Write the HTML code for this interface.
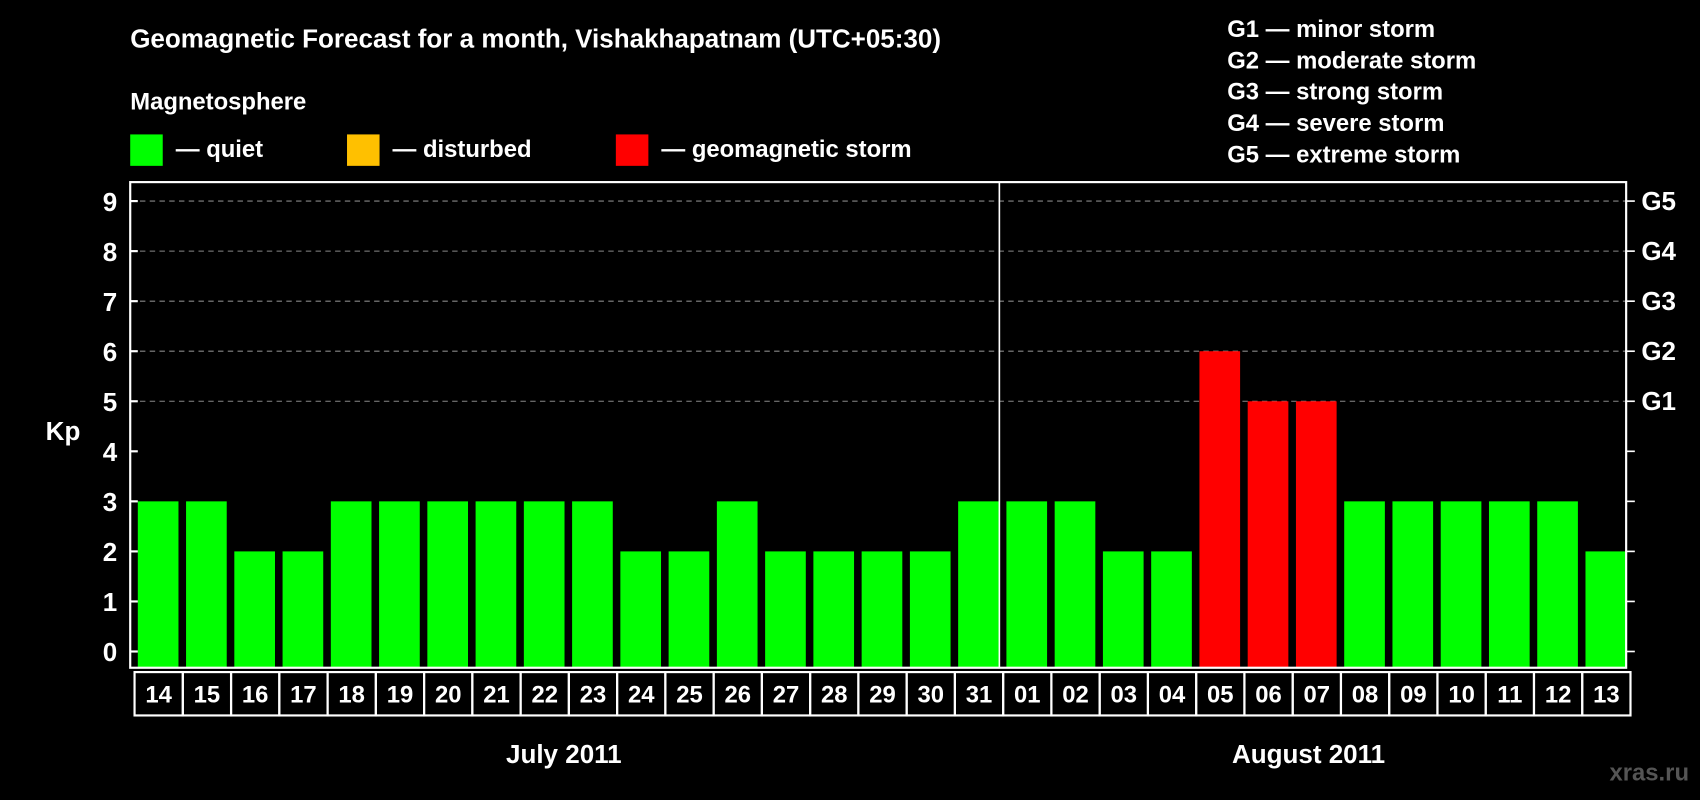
<!DOCTYPE html>
<html><head><meta charset="utf-8"><style>
html,body{margin:0;padding:0;background:#000;}
svg{display:block;font-family:"Liberation Sans",Arial,sans-serif;font-weight:bold;}
</style></head><body>
<svg id="chart" width="1700" height="800" viewBox="0 0 1568 738" xmlns="http://www.w3.org/2000/svg">
<rect width="1568" height="738" fill="#000"/>
<text x="120" y="44" fill="#fff" font-size="24">Geomagnetic Forecast for a month, Vishakhapatnam (UTC+05:30)</text>
<text x="120" y="101" fill="#fff" font-size="22">Magnetosphere</text>
<g><rect x="120" y="124" width="30" height="29" fill="#00ff00"/><text x="162" y="145" fill="#fff" font-size="22">— quiet</text></g>
<g><rect x="320" y="124" width="30" height="29" fill="#ffc000"/><text x="362" y="145" fill="#fff" font-size="22">— disturbed</text></g>
<g><rect x="568" y="124" width="30" height="29" fill="#ff0000"/><text x="610" y="145" fill="#fff" font-size="22">— geomagnetic storm</text></g>
<g fill="#fff" font-size="22">
<text x="1132" y="34">G1 — minor storm</text>
<text x="1132" y="63">G2 — moderate storm</text>
<text x="1132" y="92">G3 — strong storm</text>
<text x="1132" y="121">G4 — severe storm</text>
<text x="1132" y="150">G5 — extreme storm</text>
</g>
<g id="plot"></g>
<text x="58" y="406" fill="#fff" font-size="24" text-anchor="middle">Kp</text>
<text x="520" y="704" fill="#fff" font-size="24" text-anchor="middle">July 2011</text>
<text x="1207" y="704" fill="#fff" font-size="24" text-anchor="middle">August 2011</text>
<text x="1558" y="720" fill="#555" font-size="22" text-anchor="end">xras.ru</text>
</svg>
<script>
const days = ["14","15","16","17","18","19","20","21","22","23","24","25","26","27","28","29","30","31","01","02","03","04","05","06","07","08","09","10","11","12","13"];
const kp = [3,3,2,2,3,3,3,3,3,3,2,2,3,2,2,2,2,3,3,3,2,2,6,5,5,3,3,3,3,3,2];
const yTicks = [0,1,2,3,4,5,6,7,8,9];
const gLabels = ["G1","G2","G3","G4","G5"];
const gLevels = [5,6,7,8,9];
const monthSplit = 18;

const NS="http://www.w3.org/2000/svg";
const L=120,R=1500,T=168,B=616;
const y=v=>601-v*(601-185.5)/9;
const slot=(R-L)/days.length;
const xs=i=>L+i*slot;
const g=document.getElementById('plot');
function mk(t,a,p){const e=document.createElementNS(NS,t);for(const k in a)e.setAttribute(k,a[k]);(p||g).appendChild(e);return e;}
function color(v){return v>=5?"#ff0000":(v>=4?"#ffc000":"#00ff00");}

gLevels.forEach((lv,i)=>{
  const ln=mk('line',{x1:L,x2:R,y1:y(lv),y2:y(lv),stroke:"#888","stroke-width":1,"stroke-dasharray":"5,4"});
  
  
  const t=mk('text',{x:R+14,y:y(lv)+8,fill:"#fff","font-size":24});
  t.textContent=gLabels[i];
  
  
});
kp.forEach((v,i)=>{
  const r=mk('rect',{x:xs(i)+7,y:y(v),width:slot-7,height:B-y(v),fill:color(v)});
  
  
});
yTicks.forEach(v=>{
  mk('line',{x1:L,x2:L+7,y1:y(v),y2:y(v),stroke:"#fff","stroke-width":2});
  mk('line',{x1:R,x2:R+8,y1:y(v),y2:y(v),stroke:"#fff","stroke-width":1.5});
  const t=mk('text',{x:108,y:y(v)+9,fill:"#fff","font-size":24,"text-anchor":"end"});
  t.textContent=v;
  
  
});
const fr=mk('rect',{x:L,y:T,width:R-L,height:B-T,fill:"none",stroke:"#fff","stroke-width":2});


const sep=mk('line',{x1:xs(monthSplit)+0.5,x2:xs(monthSplit)+0.5,y1:T,y2:B,stroke:"#fff","stroke-width":1.5});


days.forEach((d,i)=>{
  const c=mk('rect',{x:xs(i)+4,y:620,width:slot,height:40,fill:"none",stroke:"#fff","stroke-width":2});
  
  
  const t=mk('text',{x:xs(i)+4+slot/2,y:648,fill:"#fff","font-size":22,"text-anchor":"middle"});
  t.textContent=d;
  
  
});
</script>
</body></html>
